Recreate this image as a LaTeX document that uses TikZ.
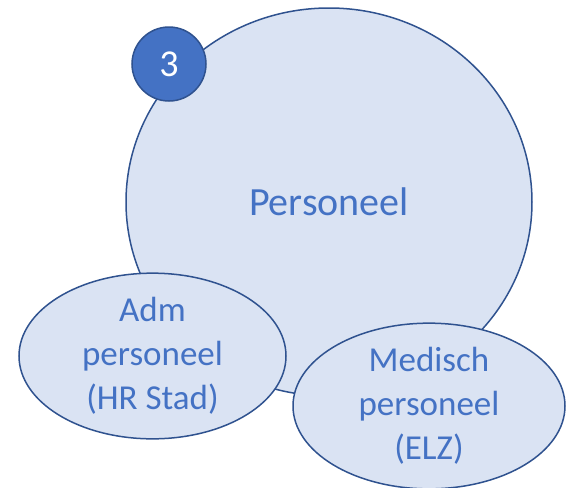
\documentclass[tikz,border=0pt]{standalone}
\usepackage{fontspec}
\setmainfont{Carlito}
\usetikzlibrary{shapes.geometric}
\definecolor{lightfill}{HTML}{DAE3F3}
\definecolor{edgeblue}{HTML}{2F528F}
\definecolor{textblue}{HTML}{4472C4}
\begin{document}
\begin{tikzpicture}[x=1pt,y=-1pt,
  bubble/.style={ellipse, draw=edgeblue, fill=lightfill, line width=1.5pt, inner sep=0pt, text=textblue, align=center},
  badge/.style={circle, draw=edgeblue, fill=textblue, line width=1.5pt, inner sep=0pt, minimum size=74pt, text=white, font=\fontsize{38}{40}\selectfont}
]
\useasboundingbox (0,0) rectangle (566,488);
\node[bubble, minimum width=406pt, minimum height=388pt, font=\fontsize{40}{44}\selectfont] (big) at (329,202) {Personeel};
\node[badge] (num) at (169,64) {3};
\node[bubble, minimum width=267pt, minimum height=164pt, font=\fontsize{35}{44}\selectfont] (adm) at (152.5,356) {Adm\\personeel\\(HR Stad)};
\node[bubble, minimum width=272pt, minimum height=162pt, font=\fontsize{35}{44}\selectfont] (med) at (429,406) {Medisch\\personeel\\(ELZ)};
\end{tikzpicture}
\end{document}
